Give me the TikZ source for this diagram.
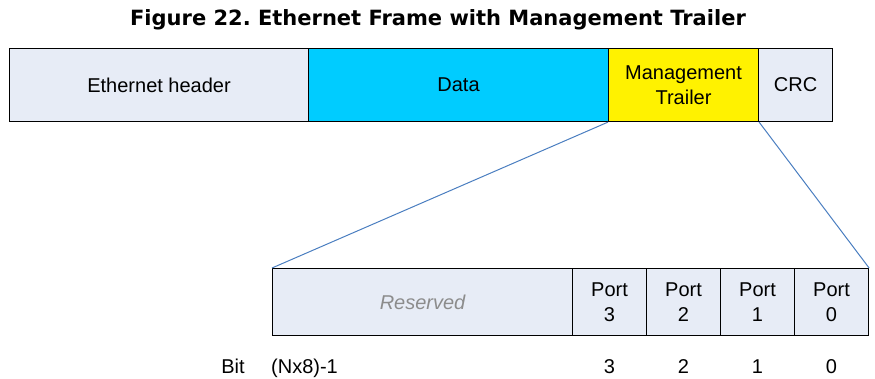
\documentclass[tikz,border=0pt]{standalone}
\usepackage{fontspec}
\setmainfont{Liberation Sans}
\newfontfamily\titlefont{DejaVu Sans}
\definecolor{fieldgray}{HTML}{E7ECF6}
\definecolor{datacyan}{HTML}{00CCFF}
\definecolor{zoomblue}{HTML}{4A7EC0}
\frenchspacing

\tikzset{
	field/.style={draw=black,line width=1.1pt,fill=fieldgray,inner sep=0pt,anchor=north west,
		align=center,font=\fontsize{20}{25}\selectfont},
	topfield/.style={field,minimum height=73pt},
	bitfield/.style={field,minimum height=67pt},
	bitlabel/.style={font=\fontsize{20}{24}\selectfont,inner sep=0pt,anchor=base}
}

\begin{document}
\begin{tikzpicture}[x=1pt,y=-1pt]
	\useasboundingbox (0,0) rectangle (875,378);
	
	% title
	\node[font=\titlefont\bfseries\fontsize{21}{24}\selectfont] (title) at (438,20) {Figure 22. Ethernet Frame with Management Trailer};
	
	% ethernet frame
	\node[topfield,minimum width=299pt] (header) at (9,48) {Ethernet header};
	\node[topfield,minimum width=300pt,fill=datacyan] (data) at (308,48) {Data};
	\node[topfield,minimum width=150pt,fill=yellow] (trailer) at (608,48) {Management\\Trailer};
	\node[topfield,minimum width=74pt] (crc) at (758,48) {CRC};
	
	% trailer bits
	\node[bitfield,minimum width=300pt,font=\itshape\fontsize{20}{25}\selectfont,text=black!45] (reserved) at (272,268) {Reserved};
	\node[bitfield,minimum width=74pt] (port3) at (572,268) {Port\\3};
	\node[bitfield,minimum width=74pt] (port2) at (646,268) {Port\\2};
	\node[bitfield,minimum width=74pt] (port1) at (720,268) {Port\\1};
	\node[bitfield,minimum width=74pt] (port0) at (794,268) {Port\\0};
	
	% zoom lines
	\draw[zoomblue,line width=1pt] (trailer.south west)--(reserved.north west);
	\draw[zoomblue,line width=1pt] (trailer.south east)--(port0.north east);
	
	% bit numbers
	\node[bitlabel] (bit) at (233,373) {Bit};
	\node[bitlabel,anchor=base west] (msb) at (271,373) {(Nx8)-1};
	\node[bitlabel] (b3) at (port3.center |- 0,373) {3};
	\node[bitlabel] (b2) at (port2.center |- 0,373) {2};
	\node[bitlabel] (b1) at (port1.center |- 0,373) {1};
	\node[bitlabel] (b0) at (port0.center |- 0,373) {0};
	
\end{tikzpicture}
\end{document}
